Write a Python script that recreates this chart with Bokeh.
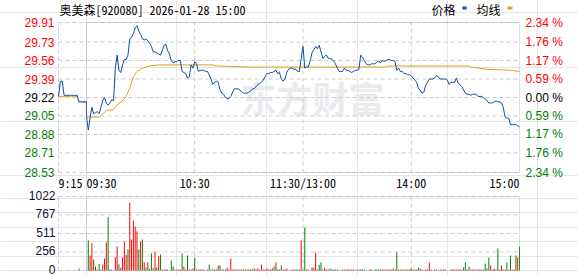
from bokeh.plotting import figure
from bokeh.models import Range1d, BoxAnnotation, Label, LabelSet, ColumnDataSource
from bokeh.layouts import column
from bokeh.embed import file_html
from bokeh.resources import INLINE
from bokeh.core.properties import value

# ---------------- data ----------------
TITLE = "奥美森[920080] 2026-01-28 15:00"
PREV_CLOSE = 29.22
PRICE_TICKS = [29.91, 29.73, 29.56, 29.39, 29.22, 29.05, 28.88, 28.71, 28.53]
PCT_LABELS = ["2.34 %", "1.76 %", "1.17 %", "0.59 %", "0.00 %", "0.59 %", "1.17 %", "1.76 %", "2.34 %"]
VOL_TICKS = [1022, 767, 511, 256, 0]
TIME_LABELS = ["9:15", "09:30", "10:30", "11:30/13:00", "14:00", "15:00"]
TIME_MIN = [None, 0, 60, 120, 180, 240]   # None = start of the 9:15 call auction
LEGEND = ["价格", "均线"]
WATERMARK = "东方财富"

# call auction 9:15 .. 9:30 (one value per minute)
PRE_PRICE = [29.23, 29.37, 29.37, 29.24, 29.24, 29.24, 29.24, 29.24,
             29.24, 29.24, 29.24, 29.18, 29.18, 29.18, 29.18, 29.18]
PRE_AVG = [29.23, 29.23, 29.23, 29.23, 29.23, 29.23, 29.23, 29.23,
           29.23, 29.23, 29.23, 29.18, 29.18, 29.18, 29.18, 29.18]
PRE_VOL = [0, 0, 0, 0, 0, 0, 0, 0, 0, 0, 0, 28, 0, 0, 0, 0]
PRE_UP = [0, 0, 0, 0, 0, 0, 0, 0, 0, 0, 0, 0, 0, 0, 0, 0]

# trading minutes 0..240 (09:30 .. 15:00, lunch removed)
PRICE = [
    29.05, 28.92, 29.03, 29.13, 29.07, 29.08, 29.09, 29.07, 29.13, 29.19,
    29.22, 29.17, 29.15, 29.17, 29.20, 29.19, 29.49, 29.61, 29.47, 29.45,
    29.52, 29.57, 29.57, 29.61, 29.76, 29.77, 29.81, 29.86, 29.88, 29.83,
    29.80, 29.76, 29.75, 29.76, 29.74, 29.72, 29.69, 29.64, 29.64, 29.63,
    29.62, 29.61, 29.65, 29.70, 29.71, 29.65, 29.62, 29.56, 29.54, 29.55,
    29.55, 29.56, 29.56, 29.46, 29.45, 29.44, 29.40, 29.41, 29.52, 29.49,
    29.55, 29.53, 29.46, 29.47, 29.47, 29.47, 29.46, 29.46, 29.43, 29.39,
    29.34, 29.36, 29.37, 29.36, 29.29, 29.26, 29.25, 29.22, 29.21, 29.21,
    29.23, 29.27, 29.30, 29.30, 29.30, 29.29, 29.27, 29.26, 29.26, 29.26,
    29.27, 29.28, 29.30, 29.30, 29.32, 29.34, 29.35, 29.36, 29.38, 29.41,
    29.44, 29.44, 29.45, 29.45, 29.46, 29.47, 29.44, 29.45, 29.39, 29.37,
    29.39, 29.45, 29.48, 29.49, 29.49, 29.48, 29.48, 29.46, 29.46, 29.58,
    29.69, 29.49, 29.50, 29.50, 29.56, 29.63, 29.66, 29.69, 29.67, 29.70,
    29.64, 29.58, 29.60, 29.61, 29.58, 29.58, 29.57, 29.56, 29.53, 29.49,
    29.46, 29.46, 29.46, 29.49, 29.47, 29.47, 29.46, 29.45, 29.46, 29.47,
    29.47, 29.48, 29.61, 29.59, 29.56, 29.53, 29.52, 29.52, 29.53, 29.53,
    29.53, 29.55, 29.55, 29.54, 29.56, 29.55, 29.56, 29.57, 29.57, 29.56,
    29.56, 29.55, 29.47, 29.49, 29.46, 29.46, 29.44, 29.44, 29.43, 29.43,
    29.42, 29.40, 29.38, 29.36, 29.30, 29.29, 29.26, 29.27, 29.33, 29.36,
    29.39, 29.39, 29.39, 29.40, 29.42, 29.41, 29.39, 29.39, 29.39, 29.39,
    29.38, 29.34, 29.36, 29.36, 29.36, 29.40, 29.35, 29.34, 29.32, 29.29,
    29.26, 29.25, 29.25, 29.24, 29.25, 29.25, 29.25, 29.23, 29.23, 29.23,
    29.22, 29.21, 29.19, 29.17, 29.17, 29.17, 29.18, 29.19, 29.18, 29.18,
    29.17, 29.13, 29.04, 29.03, 29.03, 28.97, 28.97, 28.97, 28.97, 28.96,
    28.95,
]

AVG_MIN = [0, 7, 9, 11, 15, 17, 20, 22, 24, 26, 28, 31, 35, 40, 47, 70, 72, 90,
           107, 166, 167, 212, 213, 222, 235, 239, 240]
AVG_VAL = [29.04, 29.04, 29.07, 29.10, 29.11, 29.15, 29.19, 29.23, 29.31, 29.41,
           29.46, 29.49, 29.51, 29.52, 29.52, 29.52, 29.51, 29.50, 29.50, 29.50,
           29.51, 29.51, 29.50, 29.48, 29.47, 29.46, 29.46]

VOLUME = [
    0, 414, 207, 378, 152, 55, 14, 92, 14, 83,
    166, 387, 737, 14, 14, 0, 184, 331, 83, 37,
    184, 400, 216, 295, 939, 428, 690, 608, 543, 290,
    400, 428, 115, 41, 115, 23, 235, 32, 262, 41,
    198, 221, 14, 14, 14, 14, 0, 138, 55, 14,
    14, 14, 14, 235, 55, 14, 207, 14, 14, 28,
    180, 14, 14, 14, 14, 14, 0, 14, 83, 14,
    14, 14, 14, 69, 69, 14, 14, 14, 37, 14,
    166, 14, 14, 14, 14, 14, 14, 14, 14, 14,
    14, 14, 14, 28, 14, 28, 14, 83, 14, 14,
    28, 14, 14, 28, 55, 110, 14, 14, 69, 14,
    14, 28, 0, 0, 14, 14, 14, 14, 14, 414,
    14, 594, 14, 14, 0, 37, 37, 249, 14, 78,
    110, 14, 37, 14, 14, 28, 14, 14, 14, 14,
    0, 0, 14, 14, 14, 14, 14, 14, 14, 0,
    14, 14, 14, 14, 14, 0, 0, 14, 14, 0,
    14, 14, 14, 14, 14, 14, 14, 14, 14, 14,
    28, 14, 249, 14, 14, 14, 14, 14, 14, 14,
    28, 14, 14, 14, 37, 28, 14, 0, 14, 14,
    110, 14, 0, 14, 14, 0, 14, 14, 14, 14,
    0, 0, 14, 14, 14, 14, 14, 14, 14, 46,
    110, 14, 55, 14, 14, 14, 14, 14, 14, 14,
    14, 97, 28, 180, 69, 14, 28, 14, 304, 14,
    69, 14, 14, 110, 14, 207, 14, 14, 207, 180,
    331,
]
UP = [
    0, 0, 1, 1, 0, 1, 1, 0, 0, 1,
    1, 1, 0, 0, 0, 0, 1, 1, 0, 1,
    1, 1, 1, 0, 1, 1, 1, 1, 1, 0,
    1, 0, 1, 0, 1, 0, 0, 0, 1, 0,
    1, 0, 1, 1, 0, 0, 0, 0, 0, 1,
    1, 1, 1, 0, 1, 1, 0, 1, 1, 1,
    0, 0, 1, 0, 1, 1, 0, 0, 0, 0,
    0, 1, 0, 1, 0, 1, 1, 0, 1, 1,
    1, 1, 1, 1, 0, 1, 1, 0, 0, 0,
    1, 1, 1, 0, 1, 1, 1, 1, 1, 1,
    1, 0, 1, 0, 0, 1, 1, 0, 0, 1,
    1, 1, 0, 0, 1, 0, 0, 0, 1, 1,
    0, 0, 0, 1, 0, 1, 1, 1, 0, 0,
    0, 1, 1, 1, 0, 1, 0, 0, 0, 0,
    0, 0, 1, 1, 1, 0, 1, 1, 1, 0,
    1, 1, 0, 0, 0, 0, 0, 1, 1, 0,
    0, 0, 0, 1, 1, 0, 1, 1, 1, 1,
    0, 1, 0, 1, 1, 0, 1, 1, 1, 1,
    0, 0, 1, 0, 0, 1, 1, 0, 1, 0,
    1, 1, 0, 1, 1, 0, 1, 0, 0, 1,
    0, 0, 1, 1, 1, 1, 1, 1, 1, 0,
    0, 1, 0, 1, 1, 1, 1, 1, 1, 1,
    0, 0, 0, 0, 1, 1, 0, 1, 0, 1,
    1, 0, 1, 0, 1, 0, 1, 1, 0, 1,
    0,
]

# ---------------- style / layout ----------------
W = 578
H1, H2 = 190, 86
PX_L, PX_R = 58, 519          # chart area (call-auction strip starts at PX_L)
P_TOP, P_BOT = 22, 172        # price area, px from top of first panel
V_TOP, V_BOT = 6, 80          # volume area, px from top of second panel
PRE_SPAN = 15.5               # width of the call-auction strip, in trading-minute units
X0 = -PRE_SPAN
BLUE = "#0d4fa2"
ORANGE = "#e0a11b"
RED = "#ff0000"
GREEN = "#008000"
BLACK = "#000000"
GRID = "#cccccc"
FRAME = "#999999"
DASH = "4 3"
NUM_FONT_NAME = "Liberation Sans"
MONO_FONT_NAME = "Noto Sans Mono CJK SC"
CJK_FONT_NAME = "Noto Sans CJK SC"
NUM_FONT = value(NUM_FONT_NAME)

def tone(v):
    return RED if v > PREV_CLOSE + 1e-9 else (GREEN if v < PREV_CLOSE - 1e-9 else BLACK)

ppm = (PX_R - PX_L) / (240 - X0)                       # px per minute
ppp = (P_BOT - P_TOP) / (PRICE_TICKS[0] - PRICE_TICKS[-1])   # px per price unit
ppv = (V_BOT - V_TOP) / VOL_TICKS[0]                    # px per volume unit

x_range = Range1d(X0 - PX_L / ppm, 240 + (W - PX_R) / ppm)
pre_x = [X0 + k * PRE_SPAN / 15 for k in range(16)]
main_x = list(range(len(PRICE)))

def price_at_px(py):
    return PRICE_TICKS[0] - (py - P_TOP) / ppp

def base_fig(h, y_range):
    f = figure(width=W, height=h, x_range=x_range, y_range=y_range,
               output_backend="svg", toolbar_location=None,
               x_axis_location=None, y_axis_location=None,
               min_border=0, min_border_left=0, min_border_right=0,
               min_border_top=0, min_border_bottom=0,
               outline_line_color=None, background_fill_color="white", border_fill_color="white")
    return f

def grid(f, ylo, yhi, ticks):
    f.segment(x0=[X0] * len(ticks), x1=[240] * len(ticks), y0=ticks, y1=ticks,
              line_color=GRID, line_dash=DASH, line_width=1)
    vx = [X0, 60, 120, 180]
    f.segment(x0=vx, x1=vx, y0=[ylo] * len(vx), y1=[yhi] * len(vx),
              line_color=GRID, line_dash=DASH, line_width=1)
    f.add_layout(BoxAnnotation(left=0, right=240, bottom=ylo, top=yhi,
                               fill_alpha=0, line_color=FRAME, line_width=1))

# ---------------- price panel ----------------
p1 = base_fig(H1, Range1d(price_at_px(H1), price_at_px(0)))
grid(p1, PRICE_TICKS[-1], PRICE_TICKS[0], PRICE_TICKS)

p1.add_layout(Label(x=(240 - PX_L) / ppm + X0, y=price_at_px(96.5), text=WATERMARK,
                    text_font=CJK_FONT_NAME, text_font_size="36px", text_font_style="bold",
                    text_color="#ebebef", text_baseline="middle", level="underlay"))

p1.line(pre_x + AVG_MIN, PRE_AVG + AVG_VAL, line_color=ORANGE, line_width=1)
p1.line(pre_x + main_x, PRE_PRICE + PRICE, line_color=BLUE, line_width=1)

left_src = ColumnDataSource(dict(x=[X0] * len(PRICE_TICKS), y=PRICE_TICKS,
                                 t=["%.2f" % v for v in PRICE_TICKS],
                                 c=[tone(v) for v in PRICE_TICKS]))
p1.add_layout(LabelSet(x="x", y="y", text="t", source=left_src, text_color="c", x_offset=-4,
                       text_align="right", text_baseline="middle",
                       text_font=NUM_FONT, text_font_size="12px"))
right_src = ColumnDataSource(dict(x=[240] * len(PRICE_TICKS), y=PRICE_TICKS, t=PCT_LABELS,
                                  c=[tone(v) for v in PRICE_TICKS]))
p1.add_layout(LabelSet(x="x", y="y", text="t", source=right_src, text_color="c", x_offset=6,
                       text_align="left", text_baseline="middle",
                       text_font=NUM_FONT, text_font_size="12px"))

for lab, tm in zip(TIME_LABELS, TIME_MIN):
    xm = X0 if tm is None else tm
    align = "left" if (tm is None or tm == 0) else ("right" if tm == 240 else "center")
    p1.add_layout(Label(x=xm, y=price_at_px(P_BOT + 9.5), text=lab, text_align=align,
                        text_baseline="middle", text_font=MONO_FONT_NAME, text_font_size="12px",
                        text_color=BLACK))

p1.add_layout(Label(x=X0, x_offset=1, y=price_at_px(8.5), text=TITLE,
                    text_baseline="middle", text_font=MONO_FONT_NAME, text_font_size="12px",
                    text_color=BLACK))

# legend (label followed by colour chip)
p1.add_layout(Label(x=240, x_offset=-88, y=price_at_px(9), text=LEGEND[0],
                    text_baseline="middle", text_font=CJK_FONT_NAME, text_font_size="12px", text_color=BLACK))
p1.add_layout(Label(x=240, x_offset=-43, y=price_at_px(9), text=LEGEND[1],
                    text_baseline="middle", text_font=CJK_FONT_NAME, text_font_size="12px", text_color=BLACK))
p1.add_layout(BoxAnnotation(left=240 - 57 / ppm, right=240 - 53 / ppm,
                            bottom=price_at_px(9), top=price_at_px(6),
                            fill_color=BLUE, fill_alpha=1, line_alpha=0))
p1.add_layout(BoxAnnotation(left=240 - 12 / ppm, right=240 - 7 / ppm,
                            bottom=price_at_px(9), top=price_at_px(6),
                            fill_color=ORANGE, fill_alpha=1, line_alpha=0))

# ---------------- volume panel ----------------
def vol_at_px(py):
    return (V_BOT - py) / ppv

p2 = base_fig(H2, Range1d(vol_at_px(H2), vol_at_px(0)))
grid(p2, 0, VOL_TICKS[0], VOL_TICKS)

bar_src = ColumnDataSource(dict(x=pre_x + main_x, top=PRE_VOL + VOLUME,
                                c=[RED if u else GREEN for u in PRE_UP + UP]))
p2.vbar(x="x", top="top", bottom=0, width=0.55, source=bar_src, fill_color="c", line_color=None)

vol_src = ColumnDataSource(dict(x=[X0] * len(VOL_TICKS), y=VOL_TICKS,
                                t=[str(v) for v in VOL_TICKS]))
p2.add_layout(LabelSet(x="x", y="y", text="t", source=vol_src, x_offset=-3, y_offset=1.5,
                       text_align="right", text_baseline="middle", text_color="#101030",
                       text_font=NUM_FONT, text_font_size="12px"))

layout = column(p1, p2, spacing=0)
open("out.html", "w").write(file_html(layout, INLINE))
